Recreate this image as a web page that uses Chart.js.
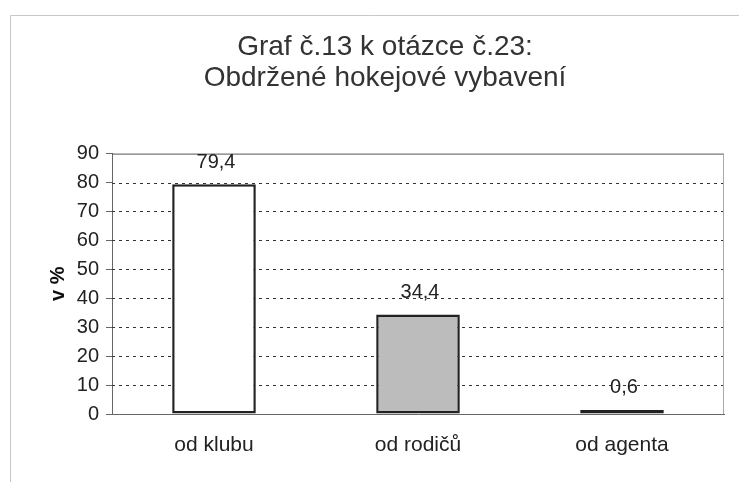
<!DOCTYPE html>
<html>
<head>
<meta charset="utf-8">
<script src="https://cdn.jsdelivr.net/npm/chart.js@4"></script>
<style>
  html, body { margin: 0; padding: 0; background: #fff; }
  #graf { width: 739px; height: 482px; }
</style>
</head>
<body>
<div id="graf"><canvas id="vybaveni"></canvas></div>
<script>
const kategorie = ["od klubu", "od rodičů", "od agenta"];
const hodnoty = [79.4, 34.4, 0.6];
const barvyVyplne = ["#ffffff", "#bcbcbc", "#333333"];
const tickyY = [0, 10, 20, 30, 40, 50, 60, 70, 80, 90];

const pismo = "'Liberation Sans', Arial, sans-serif";
const barvaTextu = "#222";

// popisky hodnot nad sloupci + rámeček
const popiskyHodnot = {
    id: "popiskyHodnot",
    beforeDraw(chart) {
        const { ctx } = chart;
        ctx.save();
        ctx.strokeStyle = "#c8c8c8";
        ctx.lineWidth = 1;
        ctx.beginPath();
        ctx.moveTo(10.5, 482);
        ctx.lineTo(10.5, 15.5);
        ctx.lineTo(739, 15.5);
        ctx.stroke();
        ctx.restore();
    },
    afterDatasetsDraw(chart) {
        const { ctx, chartArea: a } = chart;
        ctx.save();
        ctx.strokeStyle = "#555";
        ctx.lineWidth = 1;
        ctx.beginPath();
        ctx.moveTo(a.left, a.top + 0.5);
        ctx.lineTo(a.right, a.top + 0.5);
        ctx.stroke();
        ctx.strokeStyle = "#aaa";
        ctx.beginPath();
        ctx.moveTo(a.right - 0.5, a.top);
        ctx.lineTo(a.right - 0.5, a.bottom);
        ctx.stroke();

        const meta = chart.getDatasetMeta(0);
        ctx.font = "20px " + pismo;
        ctx.fillStyle = barvaTextu;
        ctx.textAlign = "center";
        ctx.textBaseline = "bottom";
        meta.data.forEach((bar, i) => {
            const text = hodnoty[i].toString().replace(".", ",");
            const vrch = Math.min(bar.y, bar.base - 4);
            ctx.fillText(text, bar.x + 2, vrch - 12);
        });
        ctx.restore();
    },
};

new Chart(document.getElementById("vybaveni"), {
    type: "bar",
    data: {
        labels: kategorie,
        datasets: [
            {
                data: hodnoty,
                backgroundColor: barvyVyplne,
                borderColor: "#222",
                borderWidth: 2.5,
                borderSkipped: false,
                minBarLength: 4,
                barPercentage: 0.82,
                categoryPercentage: 0.5,
            },
        ],
    },
    options: {
        responsive: true,
        maintainAspectRatio: false,
        animation: false,
        layout: { padding: { left: 46, right: 15, top: 0, bottom: 0 } },
        scales: {
            x: {
                grid: { display: false, drawTicks: false },
                border: { color: "#666" },
                ticks: {
                    font: { family: pismo, size: 21 },
                    color: barvaTextu,
                    padding: 19,
                },
                afterFit(scale) { scale.height = 68; },
            },
            y: {
                min: 0,
                max: 90,
                afterBuildTicks(scale) {
                    scale.ticks = tickyY.map((v) => ({ value: v }));
                },
                grid: {
                    drawOnChartArea: false,
                    tickColor: "#666",
                    tickLength: 6,
                },
                border: { color: "#666" },
                ticks: {
                    font: { family: pismo, size: 20 },
                    color: barvaTextu,
                    padding: 7,
                },
                title: {
                    display: true,
                    text: "v %",
                    font: { family: pismo, size: 20, weight: "bold" },
                    color: "#111",
                    padding: { top: 0, bottom: 2 },
                },
                afterFit(scale) { scale.width = 66; },
            },
        },
        plugins: {
            legend: { display: false },
            tooltip: { enabled: false },
            title: {
                display: true,
                text: ["Graf č.13 k otázce č.23:", "Obdržené hokejové vybavení"],
                font: { family: pismo, size: 28, weight: "normal", lineHeight: 1.1 },
                color: "#333",
                padding: { top: 32, bottom: 60 },
            },
        },
    },
    plugins: [
        popiskyHodnot,
        {
            id: "teckovaneMrizky",
            beforeDatasetsDraw(chart) {
                const { ctx, chartArea: a, scales } = chart;
                ctx.save();
                ctx.strokeStyle = "#333";
                ctx.lineWidth = 1;
                ctx.setLineDash([3, 4]);
                tickyY.forEach((v) => {
                    if (v === 0 || v === 90) return;
                    const y = Math.round(scales.y.getPixelForValue(v)) + 0.5;
                    ctx.beginPath();
                    ctx.moveTo(a.left, y);
                    ctx.lineTo(a.right, y);
                    ctx.stroke();
                });
                ctx.restore();
            },
        },
    ],
});
</script>
</body>
</html>
